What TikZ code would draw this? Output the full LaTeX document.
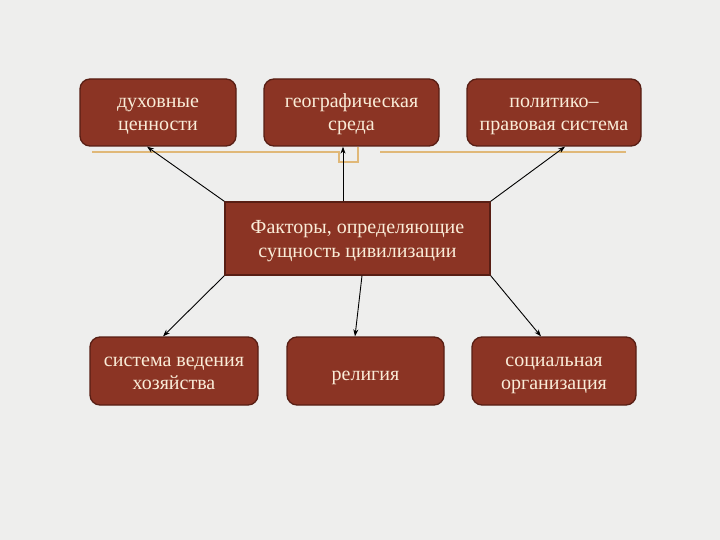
\documentclass[tikz,border=0pt]{standalone}
\usepackage{fontspec}
\setmainfont{Liberation Serif}
\usetikzlibrary{arrows.meta}
\definecolor{bgc}{RGB}{238,238,237}
\definecolor{bgcorner}{RGB}{226,224,198}
\definecolor{boxfill}{RGB}{139,52,36}
\definecolor{boxdraw}{RGB}{88,30,20}
\definecolor{boxtext}{RGB}{250,236,216}
\definecolor{goldline}{RGB}{224,184,120}
\pgfdeclareradialshading{vign}{\pgfpoint{0bp}{0bp}}{color(0bp)=(bgc); color(40bp)=(bgc); color(72bp)=(bgcorner)}
\tikzset{
  factor/.style={draw=boxdraw, line width=1.3pt, fill=boxfill, text=boxtext,
    rounded corners=10pt, align=center, font=\fontsize{20}{23.5}\selectfont, inner sep=0pt,
    text height=42pt, text depth=5pt},
  oneline/.style={text height=23pt, text depth=5pt},
  central/.style={factor, rounded corners=0pt},
  link/.style={-{Stealth[length=7pt,width=5pt]}, line width=0.9pt, black},
  deco/.style={draw=goldline, line width=1.3pt}
}
\begin{document}
\begin{tikzpicture}[x=1pt,y=-1pt]
\shade[shading=vign] (0,0) rectangle (720,540);
\useasboundingbox (0,0) rectangle (720,540);
% decorative rule
\draw[deco] (92,152) -- (339,152) -- (339,162) -- (358,162) -- (358,147);
\draw[deco] (380,152) -- (626,152);
% nodes
\node[factor, minimum width=156pt, minimum height=67pt] (A) at (158,112.5) {духовные\\ценности};
\node[factor, minimum width=175pt, minimum height=67pt] (B) at (351.5,112.5) {географическая\\среда};
\node[factor, minimum width=174pt, minimum height=67pt] (C) at (554,112.5) {политико–\\правовая система};
\node[central, minimum width=265pt, minimum height=73pt] (D) at (357.5,238.5) {Факторы, определяющие\\сущность цивилизации};
\node[factor, minimum width=168pt, minimum height=68pt] (E) at (174,371) {система ведения\\хозяйства};
\node[factor, oneline, minimum width=157pt, minimum height=68pt] (F) at (365.5,371) {религия};
\node[factor, minimum width=164pt, minimum height=68pt] (G) at (554,371) {социальная\\организация};
% connectors
\draw[link] (D.north west) -- ([xshift=-11pt]A.south);
\draw[link] ([xshift=-14.5pt]D.north) -- ([xshift=-8.5pt]B.south);
\draw[link] (D.north east) -- ([xshift=11pt]C.south);
\draw[link] (D.south west) -- ([xshift=-11pt]E.north);
\draw[link] ([xshift=4.5pt]D.south) -- ([xshift=-10.5pt]F.north);
\draw[link] (D.south east) -- ([xshift=-13pt]G.north);
\end{tikzpicture}
\end{document}
